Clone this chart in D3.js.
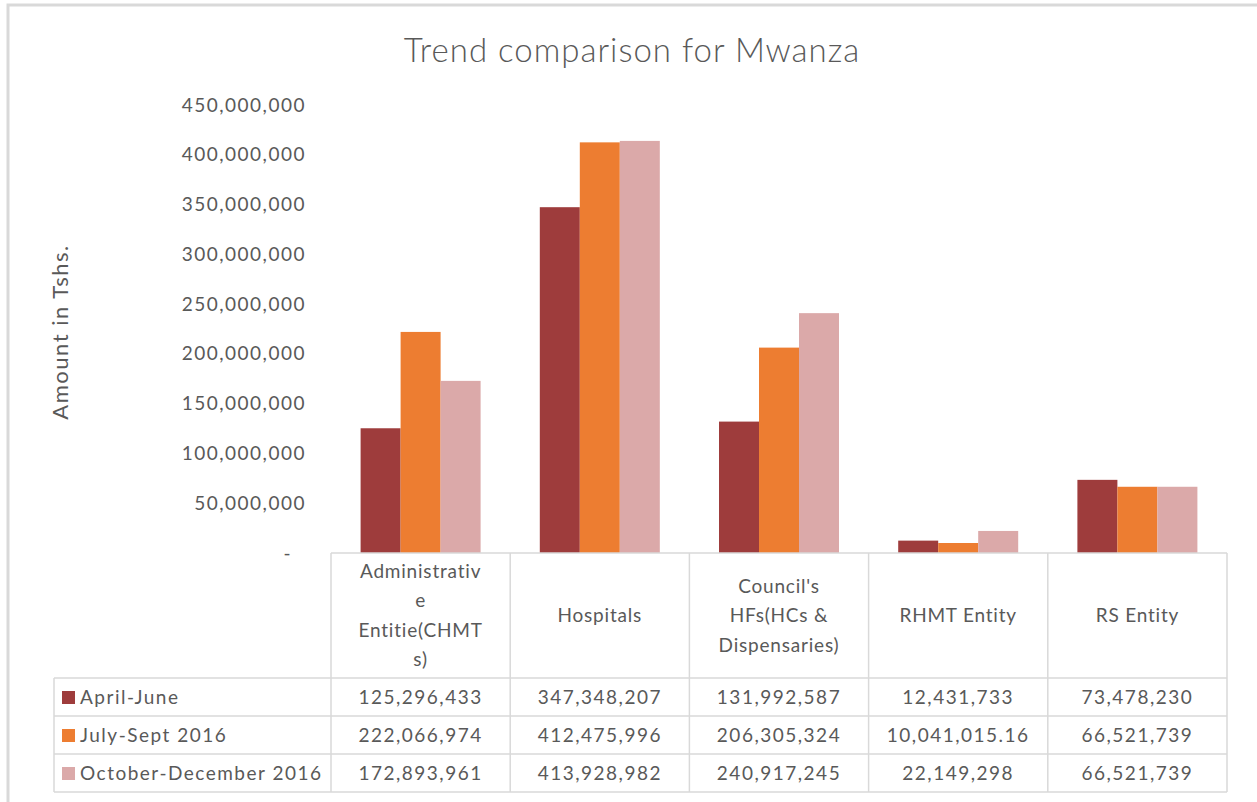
<!DOCTYPE html>
<html>
<head>
<meta charset="utf-8">
<script src="https://cdn.jsdelivr.net/npm/d3@7"></script>
<style>
  body { margin: 0; background: #fff; }
  text { font-family: Lato, "Open Sans", sans-serif; fill: #595959; }
</style>
</head>
<body>
<svg id="chart" width="1257" height="802"></svg>
<script>
// categories and series
var categories = ["Administrative Entitie(CHMTs)", "Hospitals", "Council's HFs(HCs & Dispensaries)", "RHMT Entity", "RS Entity"]
var categoryLines = [
    ["Administrativ", "e", "Entitie(CHMT", "s)"],
    ["Hospitals"],
    ["Council's", "HFs(HCs &", "Dispensaries)"],
    ["RHMT Entity"],
    ["RS Entity"]
]
var seriesNames = ["April-June", "July-Sept 2016", "October-December 2016"]
var aprilJune = [125296433, 347348207, 131992587, 12431733, 73478230]
var julySept = [222066974, 412475996, 206305324, 10041015.16, 66521739]
var octDec = [172893961, 413928982, 240917245, 22149298, 66521739]
var tableText = [
    ["125,296,433", "347,348,207", "131,992,587", "12,431,733", "73,478,230"],
    ["222,066,974", "412,475,996", "206,305,324", "10,041,015.16", "66,521,739"],
    ["172,893,961", "413,928,982", "240,917,245", "22,149,298", "66,521,739"]
]
var yTicks = [0, 50000000, 100000000, 150000000, 200000000, 250000000, 300000000, 350000000, 400000000, 450000000]
var colors = ["#9e3c3c", "#ed7d31", "#dba9a9"]

var seriesValues = [aprilJune, julySept, octDec]

var svg = d3.select("#chart")

// outer chart frame
svg.append("rect")
    .attr("x", 8).attr("y", 5)
    .attr("width", 1260).attr("height", 810)
    .attr("fill", "none")
    .attr("stroke", "#d9d9d9")
    .attr("stroke-width", 3)

// title
svg.append("text")
    .attr("x", 632).attr("y", 62)
    .attr("text-anchor", "middle")
    .style("font-size", "33px")
    .style("font-weight", 300)
    .style("letter-spacing", "1px")
    .text("Trend comparison for Mwanza")

var plotLeft = 331, plotRight = 1227, plotTop = 105, plotBottom = 553

var y = d3.scaleLinear()
    .domain([0, 450000000])
    .range([plotBottom, plotTop])

var x = d3.scaleBand()
    .domain(categories)
    .range([plotLeft, plotRight])
    .padding(0)

var xs = d3.scaleBand()
    .domain(d3.range(seriesNames.length))
    .range([0, x.bandwidth()])
    .paddingInner(0)
    .paddingOuter(0.74)

// y axis labels (no line, no gridlines)
var yAxis = d3.axisLeft(y)
    .tickValues(yTicks)
    .tickSize(0)
    .tickPadding(0)
    .tickFormat((d) => d === 0 ? "-" : d3.format(",")(d))

var gy = svg.append("g")
    .attr("transform", "translate(306,0)")
    .call(yAxis)
gy.select(".domain").remove()
gy.selectAll("text")
    .style("font-size", "19px")
    .style("font-family", "Lato, sans-serif")
    .style("letter-spacing", "1.5px")
    .attr("fill", "#595959")
    .attr("dx", (d) => d === 0 ? "-14px" : null)

// y axis title
svg.append("text")
    .attr("transform", "translate(68,332) rotate(-90)")
    .attr("text-anchor", "middle")
    .style("font-size", "22px")
    .style("letter-spacing", "1.5px")
    .text("Amount in Tshs.")

// bars
var rows = []
seriesValues.forEach((vals, s) => {
    vals.forEach((v, c) => rows.push({ s: s, c: categories[c], v: v }))
})

svg.append("g")
    .selectAll("rect")
    .data(rows)
    .enter()
    .append("rect")
    .attr("x", (d) => x(d.c) + xs(d.s))
    .attr("y", (d) => y(d.v))
    .attr("width", xs.bandwidth())
    .attr("height", (d) => y(0) - y(d.v))
    .attr("fill", (d) => colors[d.s])

// data table
var headerBottom = 678
var rowH = 38
var tableLeft = 54
var lineColor = "#d9d9d9"
var table = svg.append("g")

// vertical lines for category columns
categories.concat(["end"]).forEach((c, i) => {
    var xx = c === "end" ? plotRight : x(c)
    table.append("line")
        .attr("x1", xx).attr("x2", xx)
        .attr("y1", plotBottom).attr("y2", headerBottom + rowH * 3)
        .attr("stroke", lineColor).attr("stroke-width", 1.5)
})
// left edge of legend column
table.append("line")
    .attr("x1", tableLeft).attr("x2", tableLeft)
    .attr("y1", headerBottom).attr("y2", headerBottom + rowH * 3)
    .attr("stroke", lineColor).attr("stroke-width", 1.5)
// top line of the header row
table.append("line")
    .attr("x1", plotLeft).attr("x2", plotRight)
    .attr("y1", plotBottom).attr("y2", plotBottom)
    .attr("stroke", lineColor).attr("stroke-width", 1.5)
// horizontal row lines
d3.range(4).forEach((i) => {
    table.append("line")
        .attr("x1", tableLeft).attr("x2", plotRight)
        .attr("y1", headerBottom + rowH * i).attr("y2", headerBottom + rowH * i)
        .attr("stroke", lineColor).attr("stroke-width", 1.5)
})

// category headers
categoryLines.forEach((lines, i) => {
    var cx = x(categories[i]) + x.bandwidth() / 2
    var midY = (plotBottom + headerBottom) / 2
    var lh = 29.5
    lines.forEach((ln, j) => {
        table.append("text")
            .attr("x", cx)
            .attr("y", midY + (j - (lines.length - 1) / 2) * lh)
            .attr("dy", "0.35em")
            .attr("text-anchor", "middle")
            .style("font-size", "19px")
            .style("letter-spacing", "0.8px")
            .text(ln)
    })
})

// legend + values rows
seriesNames.forEach((name, s) => {
    var cy = headerBottom + rowH * s + rowH / 2
    table.append("rect")
        .attr("x", 62).attr("y", cy - 6)
        .attr("width", 13).attr("height", 13)
        .attr("fill", colors[s])
    table.append("text")
        .attr("x", 80).attr("y", cy)
        .attr("dy", "0.35em")
        .style("font-size", "19px")
        .style("letter-spacing", "1.5px")
        .text(name)
    tableText[s].forEach((t, c) => {
        table.append("text")
            .attr("x", x(categories[c]) + x.bandwidth() / 2)
            .attr("y", cy)
            .attr("dy", "0.35em")
            .attr("text-anchor", "middle")
            .style("font-size", "19px")
            .style("letter-spacing", "1.5px")
            .text(t)
    })
})
</script>
</body>
</html>
